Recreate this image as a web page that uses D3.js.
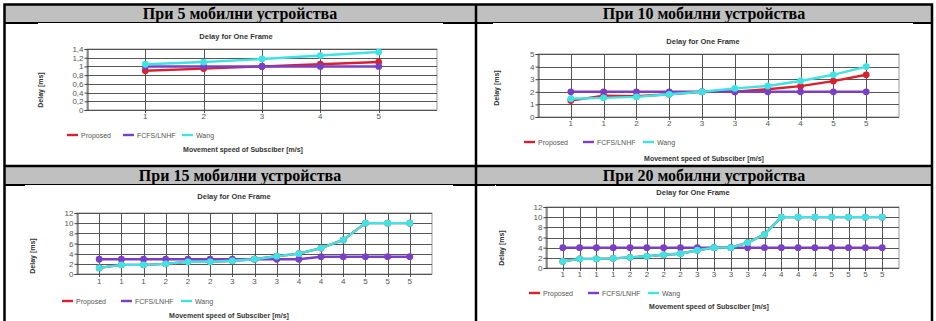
<!DOCTYPE html>
<html>
<head>
<meta charset="utf-8">
<script src="https://cdn.jsdelivr.net/npm/d3@7"></script>
<style>
  body { margin: 0; background: #fff; }
  svg { display: block; }
</style>
</head>
<body>
<svg id="chart" width="936" height="321"></svg>
<script>
// cell headers
const headers = [
  "При 5 мобилни устройства",
  "При 10 мобилни устройства",
  "При 15 мобилни устройства",
  "При 20 мобилни устройства",
];

// x categories (speed of subscriber) per chart
const cats5 = ["1", "2", "3", "4", "5"];
const cats10 = ["1", "1", "2", "2", "3", "3", "4", "4", "5", "5"];
const cats15 = ["1", "1", "1", "2", "2", "2", "3", "3", "3", "4", "4", "4", "5", "5", "5"];
const cats20 = ["1", "1", "1", "1", "2", "2", "2", "2", "3", "3", "3", "3", "4", "4", "4", "4", "5", "5", "5", "5"];

// delay [ms]
const proposed5 = [0.9, 0.95, 1.0, 1.05, 1.1];
const fcfs5 = [1.0, 1.0, 1.0, 1.0, 1.0];
const wang5 = [1.05, 1.1, 1.17, 1.25, 1.33];

const proposed10 = [1.3, 1.7, 1.65, 1.8, 2.0, 2.0, 2.2, 2.45, 2.85, 3.35];
const fcfs10 = [2, 2, 2, 2, 2, 2, 2, 2, 2, 2];
const wang10 = [1.45, 1.52, 1.6, 1.8, 2.0, 2.27, 2.46, 2.86, 3.35, 4.0];

const proposed15 = [1.2, 1.8, 1.8, 2.0, 2.4, 2.4, 2.6, 2.9, 3.5, 4.0, 5.1, 6.7, 10, 10, 10];
const fcfs15 = [2.9, 2.9, 2.9, 2.9, 2.9, 2.9, 2.9, 2.9, 2.9, 2.9, 3.4, 3.4, 3.4, 3.4, 3.4];
const wang15 = [1.2, 1.8, 1.8, 2.0, 2.4, 2.4, 2.6, 2.9, 3.5, 4.0, 5.1, 6.7, 10, 10, 10];

const proposed20 = [1.3, 1.8, 1.8, 1.9, 2.1, 2.3, 2.6, 2.8, 3.5, 4.0, 4.0, 5.0, 6.6, 10, 10, 10, 10, 10, 10, 10];
const fcfs20 = [4, 4, 4, 4, 4, 4, 4, 4, 4, 4, 4, 4, 4, 4, 4, 4, 4, 4, 4, 4];
const wang20 = [1.3, 1.8, 1.8, 1.9, 2.1, 2.3, 2.6, 2.8, 3.5, 4.0, 4.0, 5.0, 6.6, 10, 10, 10, 10, 10, 10, 10];

// y ticks
const ticks5 = [0, 0.2, 0.4, 0.6, 0.8, 1, 1.2, 1.4];
const ticks10 = [0, 1, 2, 3, 4, 5];
const ticks15 = [0, 2, 4, 6, 8, 10, 12];
const ticks20 = [0, 2, 4, 6, 8, 10, 12];

const seriesNames = ["Proposed", "FCFS/LNHF", "Wang"];
const seriesColors = ["#d9202e", "#7a3fc4", "#3fe3e3"];

const svg = d3.select("#chart");
const sans = "'Liberation Sans', Arial, sans-serif";

// ---- table frame ----
const frame = svg.append("g");
frame.selectAll("rect.hdr")
  .data([[5, 22], [167, 184]])
  .join("rect")
  .attr("x", 5).attr("width", 927)
  .attr("y", d => d[0]).attr("height", d => d[1] - d[0])
  .attr("fill", "#c0c0c0");

const hdrPos = [[240, 18.5], [704, 18.5], [240, 180.5], [704, 180.5]];
frame.selectAll("text.hdr")
  .data(headers)
  .join("text")
  .attr("x", (d, i) => hdrPos[i][0])
  .attr("y", (d, i) => hdrPos[i][1])
  .attr("text-anchor", "middle")
  .attr("font-family", "'Liberation Serif', 'Times New Roman', serif")
  .attr("font-weight", "bold")
  .attr("font-size", 16)
  .text(d => d);

// thin lines under headers
frame.append("line").attr("x1", 4).attr("x2", 933).attr("y1", 22.5).attr("y2", 22.5)
  .attr("stroke", "#000").attr("stroke-width", 1);
frame.append("line").attr("x1", 4).attr("x2", 933).attr("y1", 184.5).attr("y2", 184.5)
  .attr("stroke", "#000").attr("stroke-width", 1);
// heavier fragments of the pasted-in frames
[[4, 38, 23], [443, 493, 23], [913, 933, 23], [5, 25, 185], [453, 495, 185], [496, 933, 185]]
  .forEach(s => {
    frame.append("line").attr("x1", s[0]).attr("x2", s[1]).attr("y1", s[2]).attr("y2", s[2])
      .attr("stroke", "#000").attr("stroke-width", 2);
  });
// row divider, column divider, outer border
frame.append("line").attr("x1", 4).attr("x2", 933).attr("y1", 166).attr("y2", 166)
  .attr("stroke", "#000").attr("stroke-width", 2.5);
frame.append("line").attr("x1", 476).attr("x2", 476).attr("y1", 4).attr("y2", 321)
  .attr("stroke", "#000").attr("stroke-width", 2.5);
frame.append("path").attr("d", "M4.5,323 V4.5 H932 V323")
  .attr("fill", "none").attr("stroke", "#000").attr("stroke-width", 2.5);

// ---- charts ----
const charts = [
  { cats: cats5, series: [proposed5, fcfs5, wang5], ticks: ticks5, fmt: d3.format(".1f"),
    x0: 87, x1: 437, y0: 49, y1: 110, titleX: 236, titleY: 39, labY: 119,
    legY: 135, legX: [67, 123, 182], xtX: 243, xtY: 152, ytX: 43, ytY: 90 },
  { cats: cats10, series: [proposed10, fcfs10, wang10], ticks: ticks10, fmt: d3.format("d"),
    x0: 538, x1: 899, y0: 54, y1: 117, titleX: 703, titleY: 44, labY: 126,
    legY: 142, legX: [524, 583, 643], xtX: 704, xtY: 161, ytX: 499, ytY: 88 },
  { cats: cats15, series: [proposed15, fcfs15, wang15], ticks: ticks15, fmt: d3.format("d"),
    x0: 77, x1: 432, y0: 213, y1: 274, titleX: 234, titleY: 199, labY: 284,
    legY: 301, legX: [62, 121, 181], xtX: 229, xtY: 318, ytX: 35, ytY: 256 },
  { cats: cats20, series: [proposed20, fcfs20, wang20], ticks: ticks20, fmt: d3.format("d"),
    x0: 546, x1: 899, y0: 207, y1: 268, titleX: 693, titleY: 195, labY: 277,
    legY: 293, legX: [529, 588, 648], xtX: 709, xtY: 309, ytX: 504, ytY: 248 },
];

charts.forEach(c => {
  const g = svg.append("g");
  const idx = c.cats.map((d, i) => i);
  const x = d3.scalePoint().domain(idx).range([c.x0, c.x1]).padding(1);
  const y = d3.scaleLinear().domain([0, d3.max(c.ticks)]).range([c.y1, c.y0]);

  g.append("text").attr("x", c.titleX).attr("y", c.titleY)
    .attr("text-anchor", "middle").attr("font-family", sans)
    .attr("font-weight", "bold").attr("font-size", 7.5).attr("fill", "#333")
    .text("Delay for One Frame");

  // plot frame
  g.append("rect").attr("x", c.x0).attr("y", c.y0)
    .attr("width", c.x1 - c.x0).attr("height", c.y1 - c.y0)
    .attr("fill", "#fff").attr("stroke", "#999").attr("stroke-width", 1);

  // horizontal grid
  g.append("g").selectAll("line")
    .data(c.ticks)
    .join("line")
    .attr("x1", c.x0).attr("x2", c.x1)
    .attr("y1", d => Math.round(y(d)) + 0.5).attr("y2", d => Math.round(y(d)) + 0.5)
    .attr("stroke", "#444").attr("stroke-width", 0.9);

  // vertical grid through categories
  g.append("g").selectAll("line")
    .data(idx)
    .join("line")
    .attr("x1", d => Math.round(x(d)) + 0.5).attr("x2", d => Math.round(x(d)) + 0.5)
    .attr("y1", c.y0).attr("y2", c.y1 + 3)
    .attr("stroke", "#444").attr("stroke-width", 0.9);

  // y axis
  const yAxis = g.append("g")
    .attr("transform", `translate(${c.x0 + 0.5},0)`)
    .call(d3.axisLeft(y).tickValues(c.ticks).tickSize(3).tickPadding(1)
      .tickFormat(d => c.fmt(d).replace(".", ",").replace(/,0$/, "")));
  yAxis.select(".domain").attr("stroke", "#444");
  yAxis.selectAll(".tick line").attr("stroke", "#444");
  yAxis.selectAll("text").attr("font-family", sans).attr("font-size", 8).attr("fill", "#555");

  // x labels
  g.append("g").selectAll("text")
    .data(idx)
    .join("text")
    .attr("x", d => x(d)).attr("y", c.labY)
    .attr("text-anchor", "middle").attr("font-family", sans)
    .attr("font-size", 8).attr("fill", "#555")
    .text(d => c.cats[d]);

  // series
  const line = d3.line().x((d, i) => x(i)).y(d => y(d));
  c.series.forEach((s, k) => {
    g.append("path").datum(s).attr("d", line)
      .attr("fill", "none").attr("stroke", seriesColors[k]).attr("stroke-width", 2.4);
    g.append("g").selectAll("circle")
      .data(s)
      .join("circle")
      .attr("cx", (d, i) => x(i)).attr("cy", d => y(d)).attr("r", 3.4)
      .attr("fill", seriesColors[k]);
  });

  // legend
  const leg = g.append("g").selectAll("g")
    .data(seriesNames)
    .join("g")
    .attr("transform", (d, i) => `translate(${c.legX[i]},${c.legY})`);
  leg.append("line").attr("x1", 0).attr("x2", 11).attr("y1", 0).attr("y2", 0)
    .attr("stroke", (d, i) => seriesColors[i]).attr("stroke-width", 2.4);
  leg.append("text").attr("x", 14).attr("y", 2.5)
    .attr("font-family", sans).attr("font-size", 7).attr("fill", "#555")
    .text(d => d);

  // axis titles
  g.append("text").attr("x", c.xtX).attr("y", c.xtY)
    .attr("text-anchor", "middle").attr("font-family", sans)
    .attr("font-weight", "bold").attr("font-size", 7).attr("fill", "#333")
    .text("Movement speed of Subsciber [m/s]");
  g.append("text")
    .attr("transform", `translate(${c.ytX},${c.ytY}) rotate(-90)`)
    .attr("text-anchor", "middle").attr("font-family", sans)
    .attr("font-weight", "bold").attr("font-size", 7).attr("fill", "#333")
    .text("Delay [ms]");
});
</script>
</body>
</html>
